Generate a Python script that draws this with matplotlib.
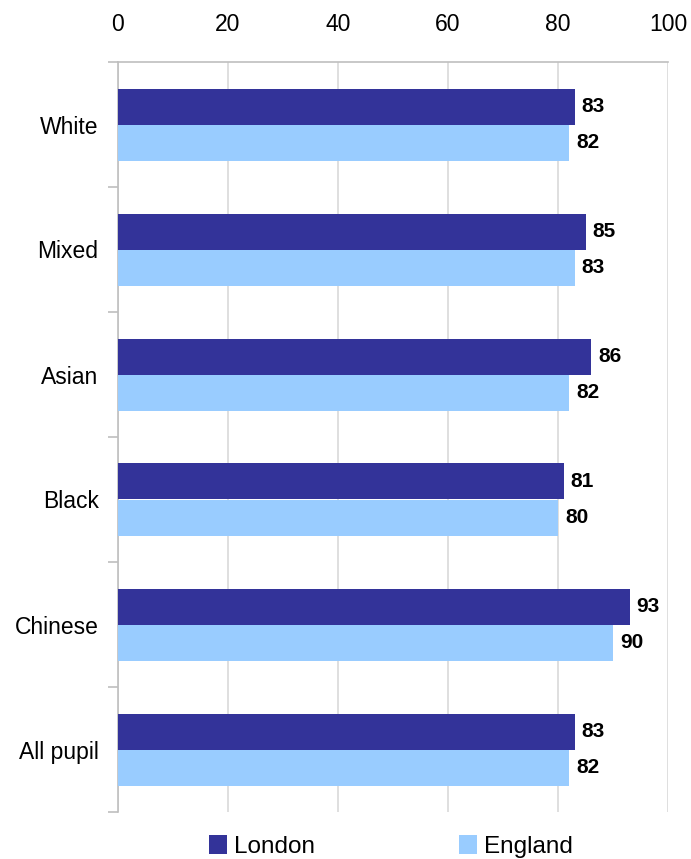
import numpy as np
import matplotlib
matplotlib.use("Agg")
import matplotlib.pyplot as plt
from matplotlib.ticker import FixedLocator

plt.rcParams['font.family'] = ['Liberation Sans', 'DejaVu Sans']

# data
categories = ['White', 'Mixed', 'Asian', 'Black', 'Chinese', 'All pupil']
london = [83, 85, 86, 81, 93, 83]
england = [82, 83, 82, 80, 90, 82]
x_ticks = [0, 20, 40, 60, 80, 100]

c_london = '#333399'
c_england = '#99ccff'
c_grid = '#d9d9d9'

fig = plt.figure(figsize=(6.91, 8.59), dpi=100)
ax = fig.add_axes([118/691, 1 - 812/859, 550/691, 750/859])

y = np.arange(len(categories))
h = 0.288
ax.barh(y - h/2, london, height=h, color=c_london, label='London', zorder=3)
ax.barh(y + h/2, england, height=h, color=c_england, label='England', zorder=3)

for i in range(len(categories)):
    ax.text(london[i] + 1.3, y[i] - h/2, str(london[i]), va='center', ha='left',
            fontsize=15, fontweight='bold', color='black')
    ax.text(england[i] + 1.3, y[i] + h/2, str(england[i]), va='center', ha='left',
            fontsize=15, fontweight='bold', color='black')

ax.set_xlim(0, 100)
ax.set_ylim(len(categories) - 0.5, -0.5)
ax.xaxis.tick_top()
ax.set_xticks(x_ticks)
ax.set_xticklabels([str(t) for t in x_ticks], fontsize=16.5)
ax.tick_params(axis='x', length=0, pad=19)
ax.grid(axis='x', color=c_grid, linewidth=1.2, zorder=0)

ax.set_yticks(y)
ax.set_yticklabels(categories, fontsize=16.5)
ax.tick_params(axis='y', which='major', length=0, pad=14)
ax.yaxis.set_minor_locator(FixedLocator(np.arange(-0.5, len(categories), 1)))
ax.tick_params(axis='y', which='minor', length=7, color='#bfbfbf', width=1.2)

for s in ['right', 'bottom']:
    ax.spines[s].set_visible(False)
for s in ['left', 'top']:
    ax.spines[s].set_color('#bfbfbf')
    ax.spines[s].set_linewidth(1.2)

fig.legend(loc='lower center', bbox_to_anchor=(0.566, -0.024), ncol=2, frameon=False,
           fontsize=17.5, handlelength=0.75, handleheight=0.85, handletextpad=0.3,
           columnspacing=5.9)

fig.savefig('out.png', dpi=100)
